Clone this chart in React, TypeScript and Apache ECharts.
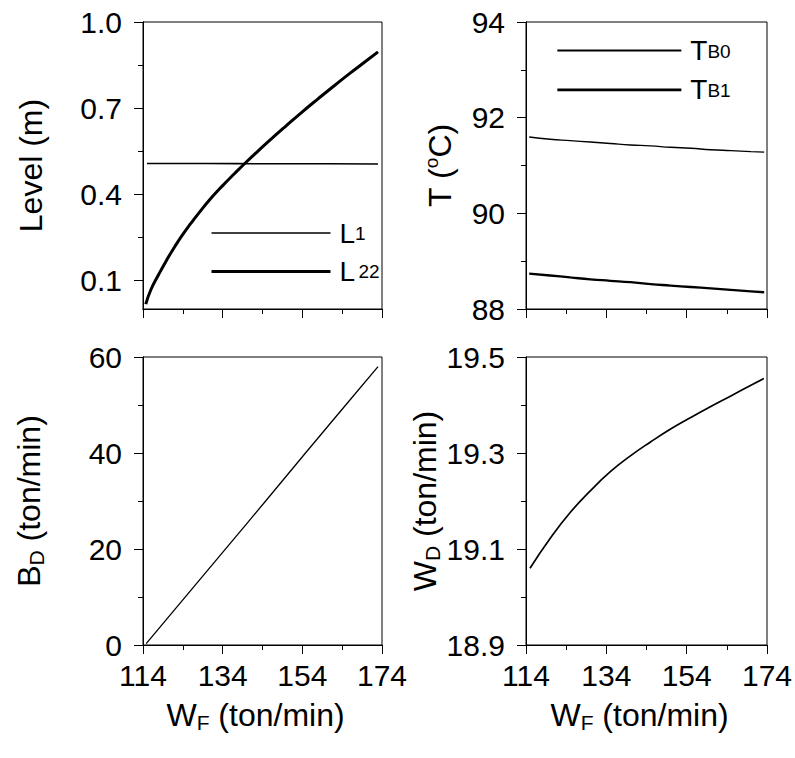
import React, { useEffect, useRef } from 'react';
import * as echarts from 'echarts';

const FONT = 'Liberation Sans, Arial, Helvetica, sans-serif';

// Shared feed-rate axis (W_F, ton/min)
const wfRange = [114, 174];
const wfTicks = [114, 134, 154, 174];
const wfMinorTicks = [124, 144, 164];

// Y-axis tick values per panel
const levelRange = [0, 1];
const levelTicks = [0.1, 0.4, 0.7, 1.0];
const levelMinorTicks = [0.25, 0.55, 0.85];
const tempRange = [88, 94];
const tempTicks = [88, 90, 92, 94];
const tempMinorTicks = [89, 91, 93];
const bdRange = [0, 60];
const bdTicks = [0, 20, 40, 60];
const bdMinorTicks = [10, 30, 50];
const wdRange = [18.9, 19.5];
const wdTicks = [18.9, 19.1, 19.3, 19.5];
const wdMinorTicks = [19.0, 19.2, 19.4];

// Level L1 (m)
const wfL1 = [115, 130, 145, 160, 173];
const levelL1 = [0.507, 0.507, 0.506, 0.506, 0.505];

// Level L22 (m)
const wfL22 = [114.7, 116, 118, 120, 122, 124, 126, 128, 131, 134, 137, 140, 143, 146, 150, 154, 158, 162, 166, 170, 173];
const levelL22 = [0.017, 0.068, 0.122, 0.172, 0.218, 0.26, 0.298, 0.334, 0.385, 0.43, 0.472, 0.513, 0.552, 0.59, 0.639, 0.687, 0.733, 0.778, 0.822, 0.864, 0.896];

// Bottom temperatures (°C)
const wfTemp = [114.8, 120, 125, 130, 135, 140, 145, 150, 155, 160, 165, 170, 173.3];
const tempTB0 = [91.595, 91.55, 91.52, 91.49, 91.46, 91.43, 91.41, 91.38, 91.36, 91.33, 91.31, 91.29, 91.28];
const tempTB1 = [88.74, 88.7, 88.66, 88.62, 88.59, 88.56, 88.52, 88.49, 88.46, 88.43, 88.4, 88.37, 88.35];

// B_D (ton/min)
const wfBD = [114.8, 125, 135, 145, 155, 165, 173];
const valBD = [0.3, 10.4, 20.3, 30.2, 40.2, 50.1, 58.0];

// W_D (ton/min)
const wfWD = [115, 120, 125, 130, 135, 140, 145, 150, 155, 160, 165, 170, 173.2];
const valWD = [19.06, 19.122, 19.176, 19.221, 19.261, 19.294, 19.323, 19.35, 19.374, 19.397, 19.419, 19.441, 19.455];

const pairs = (xs: number[], ys: number[]) => xs.map((x, i) => [x, ys[i]]);

const nameRich = {
  b: { fontSize: 32, fontFamily: FONT, color: '#000', lineHeight: 36, verticalAlign: 'middle' },
  s: { fontSize: 21, fontFamily: FONT, color: '#000', lineHeight: 19, verticalAlign: 'bottom' },
  p: { fontSize: 19, fontFamily: FONT, color: '#000', lineHeight: 19, verticalAlign: 'top' },
};

const legendRich = {
  b: { fontSize: 28, fontFamily: FONT, color: '#000', lineHeight: 20, verticalAlign: 'middle', padding: [0, 0, 0, 4] },
  s: { fontSize: 19, fontFamily: FONT, color: '#000', lineHeight: 1, verticalAlign: 'bottom' },
};

const legendText: Record<string, string> = {
  L1: '{b|L}{s|1}',
  L22: '{b|L} {s|22}',
  TB0: '{b|T}{s|B0}',
  TB1: '{b|T}{s|B1}',
};

type Panel = {
  grid: { left: number; top: number; width: number; height: number };
  yRange: number[];
  yTicks: number[];
  yMinor: number[];
  digits: number;
  yName: string;
  yGap: number;
  showX: boolean;
};

const panels: Panel[] = [
  { grid: { left: 143, top: 22, width: 239, height: 287 }, yRange: levelRange, yTicks: levelTicks, yMinor: levelMinorTicks, digits: 1, yName: '{b|Level (m)}', yGap: 94, showX: false },
  { grid: { left: 526, top: 22, width: 241, height: 287 }, yRange: tempRange, yTicks: tempTicks, yMinor: tempMinorTicks, digits: 0, yName: '{b|T (}{p|o}{b|C)}', yGap: 68, showX: false },
  { grid: { left: 143, top: 357, width: 239, height: 288 }, yRange: bdRange, yTicks: bdTicks, yMinor: bdMinorTicks, digits: 0, yName: '{b|B}{s|D}{b| (ton/min)}', yGap: 96, showX: true },
  { grid: { left: 526, top: 357, width: 241, height: 288 }, yRange: wdRange, yTicks: wdTicks, yMinor: wdMinorTicks, digits: 1, yName: '{b|W}{s|D}{b| (ton/min)}', yGap: 82, showX: true },
];

const black = { color: '#000', width: 1 };
const tickFont = { fontSize: 30, fontFamily: FONT, color: '#000' };

function buildOption() {
  const grid: any[] = [];
  const xAxis: any[] = [];
  const yAxis: any[] = [];
  panels.forEach((p, i) => {
    grid.push({ ...p.grid, show: true, borderColor: '#000', borderWidth: 1, backgroundColor: 'transparent', outerBoundsMode: 'none' });
    xAxis.push({
      type: 'value', gridIndex: i, position: 'bottom', min: wfRange[0], max: wfRange[1],
      axisLine: { show: true, onZero: false, lineStyle: black },
      axisTick: { show: true, customValues: wfTicks, length: 9, lineStyle: black },
      axisLabel: { show: p.showX, customValues: wfTicks, margin: 15, ...tickFont },
      splitLine: { show: false },
      name: p.showX ? '{b|W}{s|F}{b| (ton/min)}' : '',
      nameLocation: 'middle', nameGap: 52,
      nameTextStyle: { rich: nameRich, padding: [0, 14, 0, 0] },
    });
    xAxis.push({
      type: 'value', gridIndex: i, position: 'bottom', min: wfRange[0], max: wfRange[1],
      axisLine: { show: true, onZero: false, lineStyle: black },
      axisTick: { show: true, customValues: wfMinorTicks, length: 5, lineStyle: black },
      axisLabel: { show: false },
      splitLine: { show: false },
    });
    yAxis.push({
      type: 'value', gridIndex: i, position: 'left', min: p.yRange[0], max: p.yRange[1],
      axisLine: { show: true, onZero: false, lineStyle: black },
      axisTick: { show: true, customValues: p.yTicks, length: 9, lineStyle: black },
      axisLabel: { show: true, customValues: p.yTicks, margin: 21, formatter: (v: number) => v.toFixed(p.digits), ...tickFont },
      splitLine: { show: false },
      name: p.yName, nameLocation: 'middle', nameRotate: 90, nameGap: p.yGap,
      nameTextStyle: { rich: nameRich },
    });
    yAxis.push({
      type: 'value', gridIndex: i, position: 'left', min: p.yRange[0], max: p.yRange[1],
      axisLine: { show: true, onZero: false, lineStyle: black },
      axisTick: { show: true, customValues: p.yMinor, length: 5, lineStyle: black },
      axisLabel: { show: false },
      splitLine: { show: false },
    });
  });

  const line = (name: string, gi: number, data: number[][], width: number) => ({
    name, type: 'line', xAxisIndex: gi * 2, yAxisIndex: gi * 2, data,
    symbol: 'none', smooth: true, silent: true,
    lineStyle: { color: '#000', width },
  });

  const legendBase = {
    orient: 'vertical', padding: 0, itemHeight: 20, selectedMode: false,
    itemStyle: { opacity: 0 },
    formatter: (n: string) => legendText[n],
    textStyle: { rich: legendRich },
  };

  return {
    animation: false,
    backgroundColor: '#fff',
    grid, xAxis, yAxis,
    legend: [
      { ...legendBase, left: 210, top: 219, itemWidth: 119, itemGap: 10.4,
        data: [{ name: 'L1', lineStyle: { width: 1.6 } }, { name: 'L22', lineStyle: { width: 3 } }] },
      { ...legendBase, left: 556, top: 36.5, itemWidth: 124, itemGap: 11.3,
        data: [{ name: 'TB0', lineStyle: { width: 2.2 } }, { name: 'TB1', lineStyle: { width: 2.7 } }] },
    ],
    series: [
      line('L1', 0, pairs(wfL1, levelL1), 1.6),
      line('L22', 0, pairs(wfL22, levelL22), 3),
      line('TB0', 1, pairs(wfTemp, tempTB0), 1.4),
      line('TB1', 1, pairs(wfTemp, tempTB1), 2.3),
      line('BD', 2, pairs(wfBD, valBD), 1.3),
      line('WD', 3, pairs(wfWD, valWD), 1.7),
    ],
  };
}

export default function App() {
  const ref = useRef<HTMLDivElement>(null);
  useEffect(() => {
    if (!ref.current) return;
    const chart = echarts.init(ref.current, null, { renderer: 'svg' });
    chart.setOption(buildOption() as any);
    return () => chart.dispose();
  }, []);
  return (
    <div
      ref={ref}
      style={{ position: 'absolute', left: 0, top: 0, width: 795, height: 758, background: '#fff' }}
    />
  );
}
